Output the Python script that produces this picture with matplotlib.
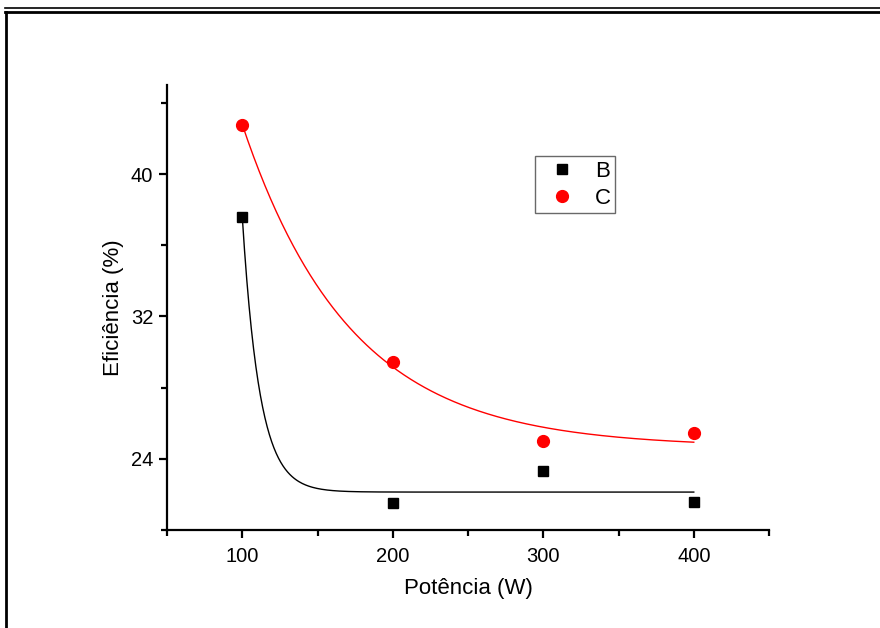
import matplotlib
matplotlib.use("Agg")
import matplotlib.pyplot as plt
import numpy as np
from matplotlib.lines import Line2D
from matplotlib.ticker import MultipleLocator

plt.rcParams['font.family'] = ['Liberation Sans', 'DejaVu Sans']

potencia = np.array([100, 200, 300, 400])
efic_b = np.array([37.6, 21.5, 23.3, 21.6])
efic_c = np.array([42.75, 29.45, 25.0, 25.45])

# decay constants of the exponential fits (Origin ExpDec1)
t_b = 11.5
t_c_grid = np.linspace(20, 200, 1801)


def fit_exp(x, y, t):
    # y = y0 + A*exp(-x/t), linear least squares for y0, A
    M = np.column_stack([np.ones_like(x, dtype=float), np.exp(-x / t)])
    coef, res, _, _ = np.linalg.lstsq(M, y, rcond=None)
    err = np.sum((M @ coef - y) ** 2)
    return coef, err


def best_fit(x, y, grid):
    best = None
    for t in grid:
        coef, err = fit_exp(x, y, t)
        if best is None or err < best[2]:
            best = (t, coef, err)
    return best[0], best[1]


coef_b, _ = fit_exp(potencia, efic_b, t_b)
t_c, coef_c = best_fit(potencia, efic_c, t_c_grid)

xf = np.linspace(potencia.min(), potencia.max(), 400)
fit_b = coef_b[0] + coef_b[1] * np.exp(-xf / t_b)
fit_c = coef_c[0] + coef_c[1] * np.exp(-xf / t_c)

fig = plt.figure(figsize=(8.8, 6.28), dpi=100)
ax = fig.add_axes([0.1898, 0.156, 0.6841, 0.7086])

ax.plot(xf, fit_b, color='black', lw=1.0)
ax.plot(xf, fit_c, color='red', lw=1.0)
ax.plot(potencia, efic_b, 's', color='black', ms=7.5, ls='none')
ax.plot(potencia, efic_c, 'o', color='red', ms=8.5, ls='none')

ax.set_xlim(50, 450)
ax.set_ylim(20, 45)
ax.xaxis.set_major_locator(MultipleLocator(100))
ax.xaxis.set_minor_locator(MultipleLocator(50))
ax.set_yticks([24, 32, 40])
ax.set_yticks([20, 28, 36, 44], minor=True)
ax.spines['top'].set_visible(False)
ax.spines['right'].set_visible(False)
for s in ['left', 'bottom']:
    ax.spines[s].set_linewidth(1.6)
ax.tick_params(which='major', direction='out', length=6, width=1.6, labelsize=14.5)
ax.tick_params(axis='x', which='major', pad=6)
ax.tick_params(axis='y', which='major', pad=4)
ax.tick_params(which='minor', direction='out', length=4, width=1.6)
ax.set_xlabel('Potência (W)', fontsize=16, labelpad=9)
ax.set_ylabel('Eficiência (%)', fontsize=16, labelpad=5)

handles = [Line2D([], [], marker='s', color='black', ls='none', ms=7.5),
           Line2D([], [], marker='o', color='red', ls='none', ms=8.5)]
leg = ax.legend(handles, ['B', 'C'], loc='upper left', bbox_to_anchor=(0.611, 0.840),
                borderaxespad=0, fontsize=16, frameon=True, fancybox=False,
                edgecolor='#444444', handletextpad=0.5, borderpad=0.2,
                labelspacing=0.28, handlelength=2.0)
leg.get_frame().set_linewidth(1.0)

# outer frame lines
fig.add_artist(Line2D([5 / 880, 1], [1 - 7.5 / 628, 1 - 7.5 / 628], color='black', lw=1.2,
                      transform=fig.transFigure))
fig.add_artist(Line2D([5 / 880, 1], [1 - 11.5 / 628, 1 - 11.5 / 628], color='black', lw=2.0,
                      transform=fig.transFigure))
fig.add_artist(Line2D([5.5 / 880, 5.5 / 880], [0, 1 - 11.5 / 628], color='black', lw=2.0,
                      transform=fig.transFigure))

fig.savefig('out.png', dpi=100)
